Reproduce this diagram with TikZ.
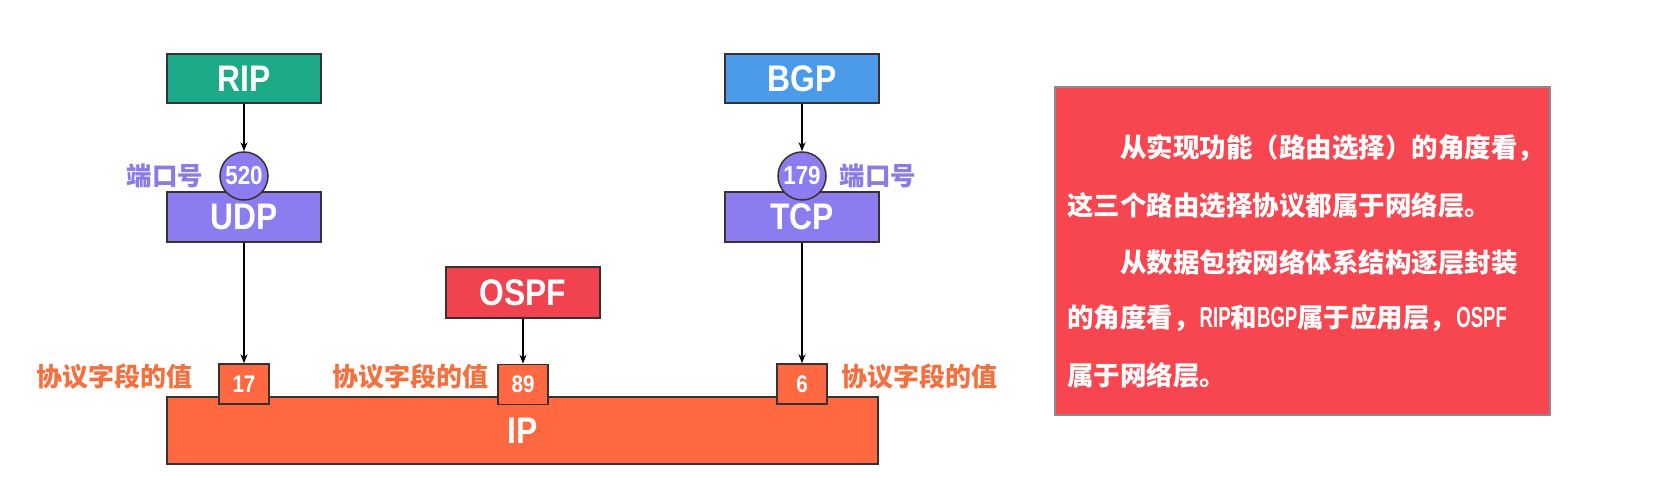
\documentclass[tikz,border=0pt]{standalone}
\usepackage{fontspec}
\setmainfont{Liberation Sans}
\newfontfamily\cjk{Noto Sans CJK SC}
\newfontfamily\boxfont[FakeStretch=0.86]{Liberation Sans}
\newfontfamily\narrowfont[FakeStretch=0.64]{Liberation Sans}
\usetikzlibrary{arrows.meta}
\definecolor{ripgreen}{HTML}{1DAA88}
\definecolor{bgpblue}{HTML}{4C9BEA}
\definecolor{tpurple}{HTML}{8B7DF0}
\definecolor{ospfred}{HTML}{F0424F}
\definecolor{iporange}{HTML}{FF6941}
\definecolor{lblpurple}{HTML}{8A7CE6}
\definecolor{lblorange}{HTML}{F4703F}
\definecolor{notered}{HTML}{F7464F}
\definecolor{edge}{HTML}{3A3030}
\newcommand\lat[1]{{\narrowfont\bfseries\fontsize{29}{30}\selectfont #1}}
\tikzset{
  pbox/.style={draw=edge, line width=1.5pt, inner sep=0pt, text=white,
    font=\boxfont\bfseries\fontsize{37}{40}\selectfont, minimum width=154pt, minimum height=50pt},
  numbox/.style={draw=edge, line width=1.5pt, inner sep=0pt, text=white, fill=iporange,
    font=\boxfont\bfseries\fontsize{24}{26}\selectfont, minimum width=50pt, minimum height=40pt},
  port/.style={circle, draw=edge, line width=1.5pt, inner sep=0pt, fill=tpurple, text=white,
    minimum size=48pt, font=\boxfont\bfseries\fontsize{26}{28}\selectfont},
  plabel/.style={text=lblpurple, font=\cjk\bfseries\fontsize{25.5}{28}\selectfont, inner sep=0pt},
  olabel/.style={text=lblorange, font=\cjk\bfseries\fontsize{26}{28}\selectfont, inner sep=0pt},
  noteline/.style={anchor=west, text=white, font=\cjk\bfseries\fontsize{26.5}{30}\selectfont, inner sep=0pt},
  arr/.style={-{Stealth[length=9pt,width=7pt]}, line width=1.8pt, black}
}
\begin{document}
\begin{tikzpicture}[x=1pt,y=-1pt]
\useasboundingbox (0,0) rectangle (1675,486);
\fill[white] (0,0) rectangle (1675,486);
% IP bar
\node[pbox, fill=iporange, minimum width=711pt, minimum height=67pt] (ip) at (522.5,430.5) {};
\node[text=white, font=\boxfont\bfseries\fontsize{37}{40}\selectfont, inner sep=0pt] (iptext) at (523,431) {IP};
% top boxes
\node[pbox, fill=ripgreen, minimum height=49pt] (rip) at (244,78.5) {RIP};
\node[pbox, fill=bgpblue, minimum height=49pt] (bgp) at (802,78.5) {BGP};
\node[pbox, fill=tpurple] (udp) at (244,217) {UDP};
\node[pbox, fill=tpurple] (tcp) at (802,217) {TCP};
\node[pbox, fill=ospfred, minimum height=51pt] (ospf) at (523,292.5) {OSPF};
% port circles
\node[port] (p520) at (244,176) {520};
\node[port] (p179) at (802,176) {179};
% protocol field boxes
\node[numbox] (n17) at (244,384) {17};
\node[numbox] (n89) at (523,384.5) {89};
\node[numbox] (n6) at (802,384) {6};
% arrows
\draw[arr] (rip.south) -- (p520.north);
\draw[arr] (bgp.south) -- (p179.north);
\draw[arr] (udp.south) -- (n17.north);
\draw[arr] (tcp.south) -- (n6.north);
\draw[arr] (ospf.south) -- (n89.north);
% labels
\node[plabel] (lp1) at (165,176) {端口号};
\node[plabel] (lp2) at (878,176) {端口号};
\node[olabel] (lo1) at (114,377) {协议字段的值};
\node[olabel] (lo2) at (410,377) {协议字段的值};
\node[olabel] (lo3) at (919,377) {协议字段的值};
% note box
\node[draw=black!45, line width=1.2pt, fill=notered, minimum width=495pt, minimum height=328pt, inner sep=0pt] (note) at (1302.5,251) {};
\node[noteline] (l1) at (1120,148) {从实现功能（路由选择）的角度看，};
\node[noteline] (l2) at (1067,205) {这三个路由选择协议都属于网络层。};
\node[noteline] (l3) at (1120,262) {从数据包按网络体系结构逐层封装};
\node[noteline] (l4) at (1067,318) {的角度看，\lat{RIP}和\lat{BGP}属于应用层，\lat{OSPF}};
\node[noteline] (l5) at (1067,375) {属于网络层。};
\end{tikzpicture}
\end{document}
